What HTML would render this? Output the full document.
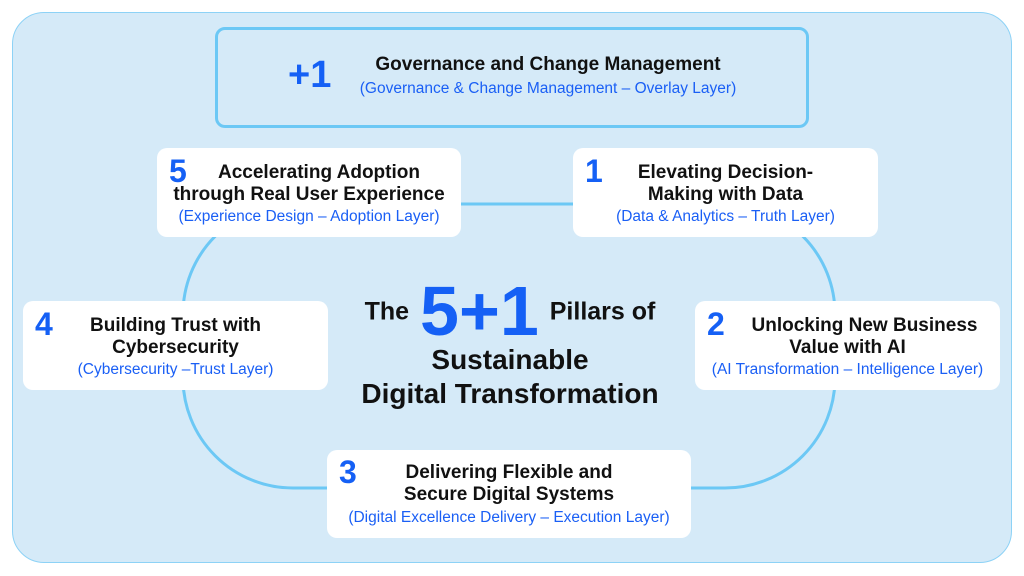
<!DOCTYPE html>
<html><head><style>
body{margin:0;width:1024px;height:576px;background:#fff;font-family:"Liberation Sans",Arial,sans-serif;position:relative;overflow:hidden}
.outer{position:absolute;left:12px;top:12px;width:998px;height:549px;background:#d5eaf8;border:1.5px solid #8dd2f6;border-radius:32px}
.box{position:absolute;background:#fff;border-radius:10px;text-align:center}
.t{font-weight:bold;font-size:19px;color:#111;line-height:22px;white-space:nowrap}
.s{font-size:15.5px;color:#1a5ff5;line-height:20px;white-space:nowrap}
.n{position:absolute;color:#1560f5;font-weight:bold;font-size:32px}
</style></head><body>
<div class="outer"></div>
<svg style="position:absolute;left:0;top:0" width="1024" height="576">
<rect x="183" y="204" width="652" height="284" rx="110" ry="110" fill="none" stroke="#6cc8f5" stroke-width="3"/>
</svg>
<div class="box" style="left:215px;top:27px;width:588px;height:95px;background:#d5eaf8;border:3px solid #6cc8f5">
<div class="n" style="left:70px;top:24px;font-size:38px">+1</div>
<div class="t" style="position:absolute;left:120px;top:24px;width:420px">Governance and Change Management</div>
<div class="s" style="position:absolute;left:120px;top:49px;width:420px">(Governance &amp; Change Management – Overlay Layer)</div>
</div>
<div class="box" style="left:157px;top:148px;width:304px;height:89px">
<div class="n" style="left:12px;top:5px">5</div>
<div class="t" style="margin-top:14px;padding-left:20px">Accelerating Adoption</div>
<div class="t">through Real User Experience</div>
<div class="s" style="margin-top:1px">(Experience Design – Adoption Layer)</div>
</div>
<div class="box" style="left:573px;top:148px;width:305px;height:89px">
<div class="n" style="left:12px;top:5px">1</div>
<div class="t" style="margin-top:14px">Elevating Decision-</div>
<div class="t">Making with Data</div>
<div class="s" style="margin-top:1px">(Data &amp; Analytics – Truth Layer)</div>
</div>
<div class="box" style="left:23px;top:301px;width:305px;height:89px">
<div class="n" style="left:12px;top:5px">4</div>
<div class="t" style="margin-top:14px">Building Trust with</div>
<div class="t">Cybersecurity</div>
<div class="s" style="margin-top:1px">(Cybersecurity –Trust Layer)</div>
</div>
<div class="box" style="left:695px;top:301px;width:305px;height:89px">
<div class="n" style="left:12px;top:5px">2</div>
<div class="t" style="margin-top:14px;padding-left:34px">Unlocking New Business</div>
<div class="t">Value with AI</div>
<div class="s" style="margin-top:1px">(AI Transformation – Intelligence Layer)</div>
</div>
<div class="box" style="left:327px;top:450px;width:364px;height:88px">
<div class="n" style="left:12px;top:4px">3</div>
<div class="t" style="margin-top:12px">Delivering Flexible and</div>
<div class="t">Secure Digital Systems</div>
<div class="s" style="margin-top:2px">(Digital Excellence Delivery – Execution Layer)</div>
</div>
<div style="position:absolute;left:320px;top:278px;width:380px;text-align:center;font-weight:bold;color:#111">
<div style="font-size:25px;height:64px;line-height:64px;white-space:nowrap"><span style="vertical-align:middle">The</span> <span style="color:#1560f5;font-size:70px;vertical-align:middle;margin:0 4px">5+1</span> <span style="vertical-align:middle">Pillars of</span></div>
<div style="font-size:28px;line-height:34px;margin-top:1px">Sustainable</div>
<div style="font-size:28px;line-height:34px">Digital Transformation</div>
</div>
</body></html>
